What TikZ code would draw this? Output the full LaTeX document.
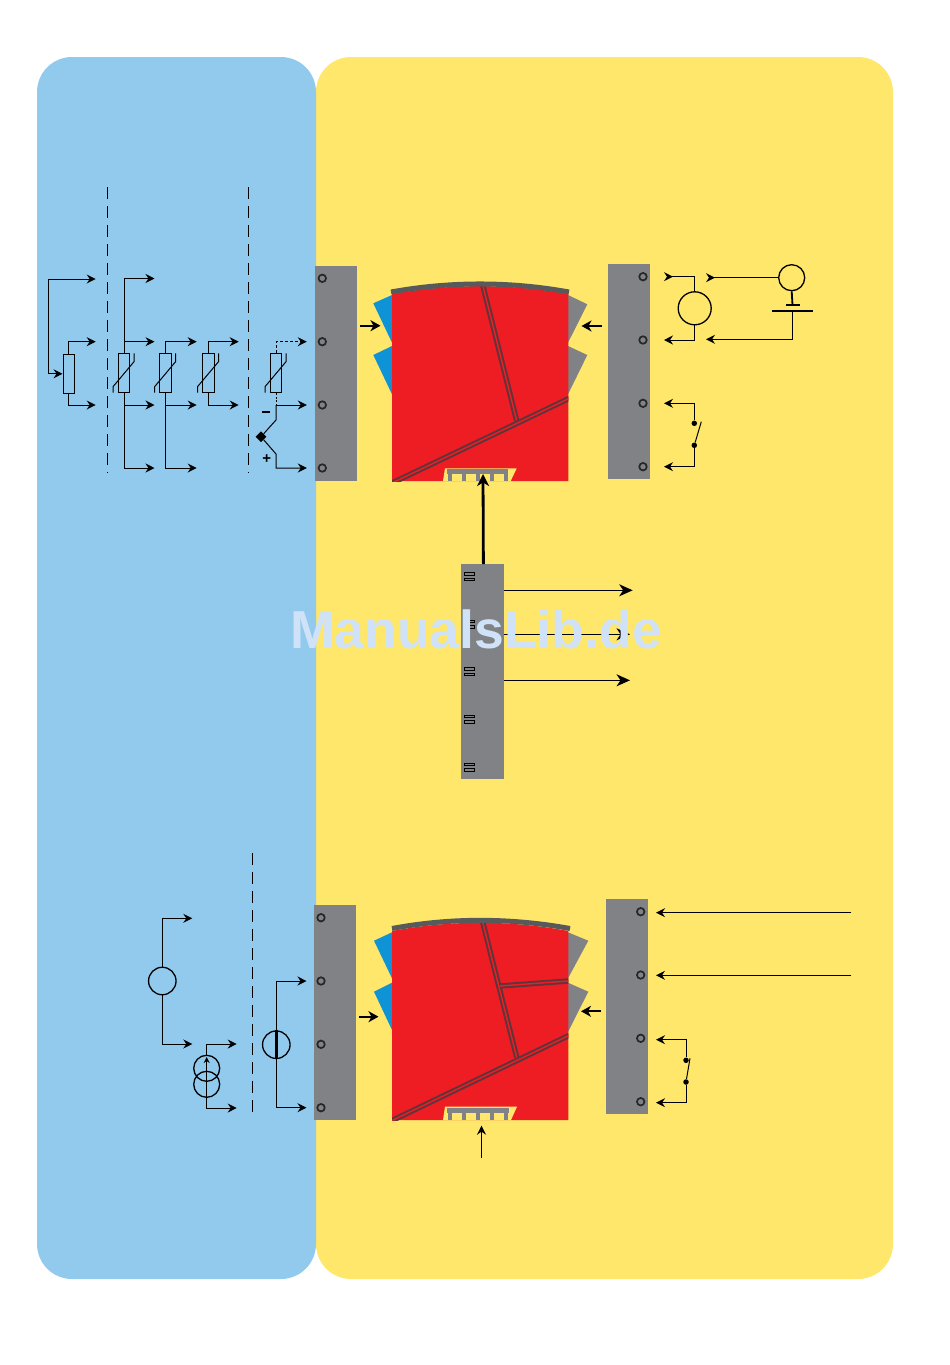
\documentclass[tikz,border=0pt]{standalone}
\usepackage{xcolor}
\usepackage{fontspec}
\setmainfont{Liberation Sans}
\usetikzlibrary{arrows.meta, shapes.geometric}
\definecolor{panelblue}{RGB}{146,202,238}
\definecolor{panelyellow}{RGB}{255,231,107}
\definecolor{unitred}{RGB}{238,29,36}
\definecolor{unitgray}{RGB}{128,130,133}
\definecolor{arcgray}{RGB}{88,89,91}
\definecolor{slotdark}{RGB}{96,52,58}
\definecolor{wedgeblue}{RGB}{14,148,214}
\definecolor{wmblue}{RGB}{207,226,247}
\tikzset{
  tip/.style={-{Stealth[length=9pt,width=9pt,inset=3pt]}},
  wire/.style={line width=1pt,black},
  wiretip/.style={wire,tip},
  wireback/.style={wire,-{Stealth[length=9pt,width=9pt,inset=3pt,reversed]}},
  wiretwo/.style={wire,{Stealth[length=9pt,width=9pt,inset=3pt]}-{Stealth[length=9pt,width=9pt,inset=3pt]}},
  fatarrow/.style={line width=2.2pt,black,-{Stealth[length=10pt,width=11pt,inset=3pt]}},
  outarrow/.style={line width=1.4pt,black,-{Stealth[length=13.5pt,width=12pt,inset=4pt]}},
  cutline/.style={line width=1pt,dash pattern=on 12pt off 7pt},
  bar/.style={fill=unitgray,minimum width=42.5pt,minimum height=215pt,inner sep=0pt},
  terminal/.style={circle,draw=black!85,line width=1.7pt,minimum size=7.5pt,inner sep=0pt},
  resbox/.style={draw=black,line width=1pt,minimum width=11.5pt,minimum height=39.5pt,inner sep=0pt},
  ring/.style={circle,draw=black,line width=1.3pt,inner sep=0pt},
  dot/.style={circle,fill=black,minimum size=5.5pt,inner sep=0pt},
  slot/.style={draw=slotdark,line width=2pt,double=unitred,double distance=1.4pt},
  port/.style={draw=black,line width=0.7pt,minimum width=10pt,minimum height=2.6pt,inner sep=0pt},
}
\begin{document}
\begin{tikzpicture}[x=1pt,y=-1pt]
\useasboundingbox (0,0) rectangle (950,1365);
% Panels
\fill[panelyellow,rounded corners=35pt] (316,57) rectangle (893,1279);
\fill[panelblue,rounded corners=35pt] (37,57) rectangle (316,1279);

% Terminal bars
\node[bar] (barTL) at (336,373.5) {};
\node[bar] (barTR) at (628.8,371.7) {};
\node[bar] (barBL) at (335.2,1012.8) {};
\node[bar] (barBR) at (626.8,1006.7) {};
\node[bar] (barMid) at (482.4,671.7) {};
\foreach \i/\y in {1/278.3,2/341.7,3/405,4/468}
  \node[terminal] (tl\i) at (322.3,\y) {};
\foreach \i/\y in {1/276.7,2/340,3/403.3,4/466.7}
  \node[terminal] (tr\i) at (643,\y) {};
\foreach \i/\y in {1/917.7,2/981,3/1044.3,4/1107.7}
  \node[terminal] (bl\i) at (321,\y) {};
\foreach \i/\y in {1/911.7,2/975,3/1038.3,4/1101.7}
  \node[terminal] (br\i) at (640.7,\y) {};
% Ports on the middle bar
\foreach \i/\y in {1/576.7,2/624,3/671.7,4/719,5/767}{
  \node[port] (pa\i) at (469.5,\y-2.7) {};
  \node[port] (pb\i) at (469.5,\y+2.7) {};
}

% Upper unit
\fill[wedgeblue] (392,295) -- (373.3,303.3) -- (392,342.7) -- cycle;
\fill[wedgeblue] (392,346) -- (373.3,355) -- (392,394.3) -- cycle;
\fill[unitgray] (568,295) -- (587.3,304.3) -- (568,342.7) -- cycle;
\fill[unitgray] (568,346) -- (587.3,355) -- (568,394.3) -- cycle;
\path[fill=unitred] (392,294) .. controls (450,283.5) and (510,283.5) .. (568.3,294)
  -- (568.3,481) -- (392,481) -- cycle;
\begin{scope}
\clip (392,284) rectangle (568.3,481);
\draw[slot] (482.7,285) -- (516.7,420.7);
\draw[slot] (390,484) -- (572,397);
\end{scope}
\draw[arcgray,line width=5pt] (391,292) .. controls (450,281.3) and (510,281.3) .. (569,292);
\fill[panelyellow] (445,468.3) -- (516.7,468.3) -- (510.7,481) -- (443,481) -- cycle;
\fill[unitgray] (447.3,469.3) rectangle (507.7,474);
\foreach \x in {450,464,478,492,506}
  \fill[unitgray] (\x-1.8,474) rectangle (\x+1.8,481);

% Lower unit
\fill[wedgeblue] (392,932.3) -- (374,940.7) -- (392,978.3) -- cycle;
\fill[wedgeblue] (392,982.7) -- (374,991.7) -- (392,1030) -- cycle;
\fill[unitgray] (568,932.3) -- (588.3,940.7) -- (568,978.3) -- cycle;
\fill[unitgray] (568,982.7) -- (588.3,991.7) -- (568,1032) -- cycle;
\path[fill=unitred] (392,931) .. controls (450,920) and (510,920) .. (568.3,931)
  -- (568.3,1120) -- (392,1120) -- cycle;
\begin{scope}
\clip (392,921) rectangle (568.3,1120);
\draw[slot] (482.7,922) -- (516.7,1057.3);
\draw[slot] (500,986) -- (572,980.7);
\draw[slot] (390,1121.5) -- (572,1034);
\end{scope}
\draw[arcgray,line width=5pt] (392,928.5) .. controls (450,917.6) and (510,917.6) .. (570,928.5);
\fill[panelyellow] (445,1106.7) -- (517,1106.7) -- (511,1120) -- (443,1120) -- cycle;
\fill[unitgray] (447.3,1108.3) rectangle (509,1113.3);
\foreach \x in {450,464,478,492,506}
  \fill[unitgray] (\x-1.8,1113) rectangle (\x+1.8,1119.5);

% Arrows into the units
\coordinate (inTL) at (380.5,325.7);
\coordinate (inTR) at (581.5,326);
\coordinate (inBL) at (378.5,1016.7);
\coordinate (inBR) at (581,1011.3);
\coordinate (inTop) at (483,474);
\coordinate (inBot) at (481.5,1125.7);
\coordinate (inBotEnd) at (481.5,1158.3);
\draw[fatarrow] (360,325.7) -- (inTL);
\draw[fatarrow] (602,326) -- (inTR);
\draw[fatarrow] (359,1016.7) -- (inBL);
\draw[fatarrow] (601,1011.3) -- (inBR);
\draw[line width=2.8pt,-{Stealth[length=12pt,width=12pt,inset=3.5pt]}] (barMid.north) ++(1,0) -- (inTop);
\draw[line width=1.2pt,tip] (inBotEnd) -- (inBot);

% Upper left circuits
\draw[cutline] (107.3,187) -- (107.3,473);
\draw[cutline] (248.7,187) -- (248.7,473);
\node[resbox] (r1) at (68.8,373.8) {};
\coordinate (r1a) at (95.7,341.7);
\coordinate (r1b) at (95.7,405);
\coordinate (r1c) at (95.7,279);
\draw[wiretip] (r1.north) |- (r1a);
\draw[wiretip] (r1.south) |- (r1b);
\draw[wiretwo] (r1c) -- (48.3,279) |- (r1.west);
\foreach \name/\x in {v1/124,v2/165.6,v3/208.5,v4/276}{
  \node[resbox] (\name) at (\x,373) {};
  \draw[wire] (\x-11,392.7) -- (\x-11,386.7) -- (\x+10,361.7) -- (\x+10,353.3);
}
\foreach \y/\i in {278.5/a,341.7/b,405/c,468/d}
  \coordinate (v1\i) at (154.5,\y);
\foreach \y/\i in {341.7/b,405/c,468/d}
  \coordinate (v2\i) at (196.7,\y);
\foreach \y/\i in {341.7/b,405/c}
  \coordinate (v3\i) at (238.7,\y);
\draw[wiretip] (v1.north) |- (v1a);
\draw[wiretip] (124,341.7) -- (v1b);
\draw[wiretip] (v1.south) |- (v1d);
\draw[wiretip] (124,405) -- (v1c);
\draw[wiretip] (v2.north) |- (v2b);
\draw[wiretip] (v2.south) |- (v2d);
\draw[wiretip] (165.6,405) -- (v2c);
\draw[wiretip] (v3.north) |- (v3b);
\draw[wiretip] (v3.south) |- (v3c);
\draw[wiretip,dash pattern=on 3pt off 2pt] (v4.north) |- ([xshift=-15.5pt]tl2.center);
\draw[wire,dash pattern=on 2pt off 1.5pt] (v4.south) -- (276,405);
\draw[wiretip] (276,405) -- ([xshift=-15.5pt]tl3.center);
\node[diamond,aspect=1,fill=black,inner sep=0pt,minimum size=11pt] (diode) at (261,436.7) {};
\draw[wire] (276,405) -- (276,420) -- (diode);
\draw[wiretip] (diode) -- (276,454) |- ([xshift=-15.5pt]tl4.center);
\node[inner sep=0pt] (minus) at (266,412.3) {\rule{8pt}{2pt}};
\node[inner sep=0pt,font=\fontsize{15}{15}\selectfont\bfseries] (plus) at (266.7,459.3) {+};

% Upper right circuits
\node[ring,minimum size=33pt] (srcA) at (694.7,308.3) {};
\node[ring,minimum size=26pt] (srcB) at (791.7,277.7) {};
\coordinate (plateTop) at (792.5,305);
\coordinate (plateLow) at (792.5,311);
\draw[wireback] (srcA.north) |- (664,276.7);
\draw[wiretip] (srcA.south) |- (664,340);
\draw[wireback] (srcB.west) -- (706,277.7);
\draw[line width=1.8pt] (srcB.south) -- (plateTop);
\draw[line width=1.8pt] (785.5,305) -- (799.5,305);
\draw[line width=1.8pt] (772.3,311) -- (813,311);
\draw[line width=1.4pt] (plateLow) -- (792.5,339.3);
\draw[wiretip] (792.5,339.3) -- (706,339.3);
\node[dot] (swA) at (694.3,423.3) {};
\node[dot] (swB) at (694.3,445.3) {};
\draw[wiretip] (swA) |- (664,403.3);
\draw[wiretip] (swB) |- (664,466.7);
\draw[wire] (swB) -- (701.3,421.7);

% Middle bar outputs
\coordinate (outA) at (632.7,590.3);
\coordinate (outB) at (630,634.3);
\coordinate (outC) at (630,680.3);
\draw[outarrow] (503.7,590.3) -- (outA);
\draw[outarrow] (503.7,634.3) -- (outB);
\draw[outarrow] (503.7,680.3) -- (outC);

% Lower left circuits
\draw[cutline] (252.3,853) -- (252.3,1113);
\node[ring,minimum size=27.5pt] (srcC) at (162.3,981) {};
\node[ring,minimum size=26pt] (trA) at (206.7,1068.3) {};
\node[ring,minimum size=26pt] (trB) at (206.7,1084.3) {};
\node[ring,minimum size=27.5pt] (srcD) at (276.3,1044.7) {};
\coordinate (c1) at (192.3,918.3);
\coordinate (c2) at (192.3,1044);
\coordinate (d1) at (236.7,1044);
\coordinate (d2) at (236.7,1108);
\draw[wiretip] (srcC.north) |- (c1);
\draw[wiretip] (srcC.south) |- (c2);
\draw[wiretip] (trA.north) |- (d1);
\draw[wiretip] (206.7,1084) |- (d2);
\draw[wire,-{Stealth[length=6pt,width=6pt]}] (206.7,1084) -- (206.7,1057);
\draw[line width=2.8pt] (srcD.north) -- (srcD.south);
\draw[wiretip] (srcD.north) |- ([xshift=-14.5pt]bl2.center);
\draw[wiretip] (srcD.south) |- ([xshift=-14.5pt]bl4.center);

% Lower right circuits
\coordinate (feedA) at (851,912.7);
\coordinate (feedB) at (851,975.3);
\draw[wiretip] (feedA) -- (656,912.7);
\draw[wiretip] (feedB) -- (656,975.3);
\node[dot] (swC) at (686,1060.3) {};
\node[dot] (swD) at (686,1082) {};
\draw[wiretip] (swC) |- (656,1039.7);
\draw[wiretip] (swD) |- (656,1102.7);
\draw[wire] (swD) -- (690,1058.3);

% Watermark
\node[anchor=base,inner sep=0pt,text=wmblue,font=\fontsize{53.5}{54}\selectfont\bfseries] (mark) at (476,648) {ManualsLib.de};
\end{tikzpicture}
\end{document}
